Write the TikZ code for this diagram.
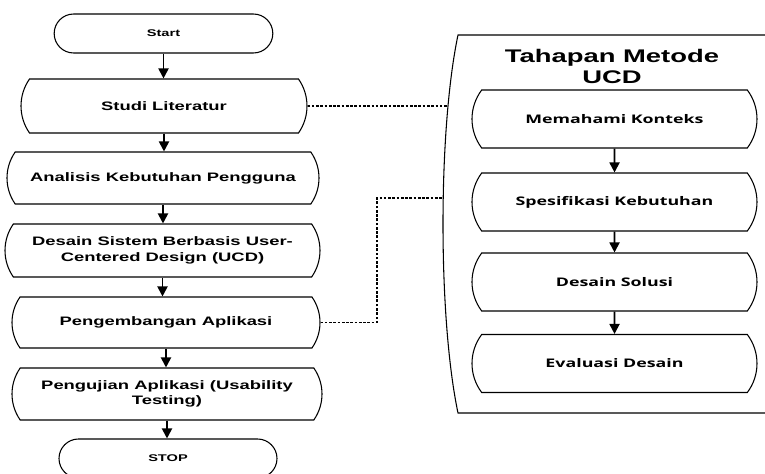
\documentclass[tikz,border=0pt]{standalone}
\usepackage{fontspec}
\setmainfont{Liberation Sans}
\newfontfamily\arialw{Liberation Sans}[FakeStretch=1.5]
\newfontfamily\opensw{Open Sans}[FakeStretch=1.5]
\usetikzlibrary{shapes.misc,arrows.meta}
\tikzset{
  boxline/.style={draw=black, line width=0.8pt},
  stepbox/.style={rounded rectangle, boxline, rounded rectangle arc length=70, inner sep=0pt, align=center,
     font=\arialw\bfseries\fontsize{9.2}{11.6}\selectfont},
  ucdbox/.style={rounded rectangle, boxline, rounded rectangle arc length=74, inner sep=0pt, align=center,
     minimum width=213.75pt, minimum height=43.5pt,
     font=\opensw\bfseries\fontsize{8.9}{11}\selectfont},
  termbox/.style={rounded rectangle, boxline, inner sep=0pt, align=center,
     minimum width=164pt, minimum height=29.25pt,
     font=\arialw\bfseries\fontsize{7.3}{9}\selectfont},
  arr/.style={draw=black, line width=1.4pt, -{Triangle[width=7.5pt,length=7.5pt]}},
  link/.style={draw=black, line width=0.8pt, dash pattern=on 2pt off 1.2pt},
}
\begin{document}
\begin{tikzpicture}[x=0.75pt,y=-0.75pt]
\path[use as bounding box, clip] (0,0) rectangle (765,474);
\fill[white] (0,0) rectangle (765,474);

% container
\draw[boxline] (790,35) -- (458,35) .. controls (438,130) and (438,318) .. (458,413) -- (790,413);
\coordinate (c1) at (447.5,106);
\coordinate (c2) at (443,198);
\node[font=\arialw\bfseries\fontsize{13.7}{15.8}\selectfont, align=center] (title) at (612,66.5) {Tahapan Metode\\UCD};

% left flow
\node[termbox] (start) at (163.5,33.5) {Start};
\node[stepbox, minimum width=214.5pt, minimum height=40.5pt] (studi) at (164,106) {Studi Literatur};
\node[stepbox, minimum width=234pt, minimum height=39pt] (anal) at (163,178) {Analisis Kebutuhan Pengguna};
\node[stepbox, minimum width=236.25pt, minimum height=39.75pt] (desain) at (162.5,250.5) {Desain Sistem Berbasis User-\\Centered Design (UCD)};
\node[stepbox, minimum width=231pt, minimum height=38.25pt] (peng) at (166,322.5) {Pengembangan Aplikasi};
\node[stepbox, minimum width=232.5pt, minimum height=39pt] (uji) at (167,394) {Pengujian Aplikasi (Usability\\Testing)};
\node[termbox, minimum width=163.5pt] (stop) at (168,458.5) {STOP};

\draw[arr] (start.south) -- (start.south |- studi.north);
\draw[arr] (studi.south) -- (studi.south |- anal.north);
\draw[arr] (anal.south) -- (anal.south |- desain.north);
\draw[arr] (desain.south) -- (desain.south |- peng.north);
\draw[arr] (peng.south) -- (peng.south |- uji.north);
\draw[arr] (uji.south) -- (uji.south |- stop.north);

% right flow
\node[ucdbox] (mem) at (614.5,119) {Memahami Konteks};
\node[ucdbox] (spes) at (614.5,202) {Spesifikasi Kebutuhan};
\node[ucdbox] (sol) at (614.5,282) {Desain Solusi};
\node[ucdbox] (eval) at (614.5,363.5) {Evaluasi Desain};
\draw[arr] (mem) -- (spes);
\draw[arr] (spes) -- (sol);
\draw[arr] (sol) -- (eval);

% dashed links
\draw[link] (studi.east) -- (c1);
\draw[link] (peng.east) -| (377,198) -- (c2);
\end{tikzpicture}
\end{document}
